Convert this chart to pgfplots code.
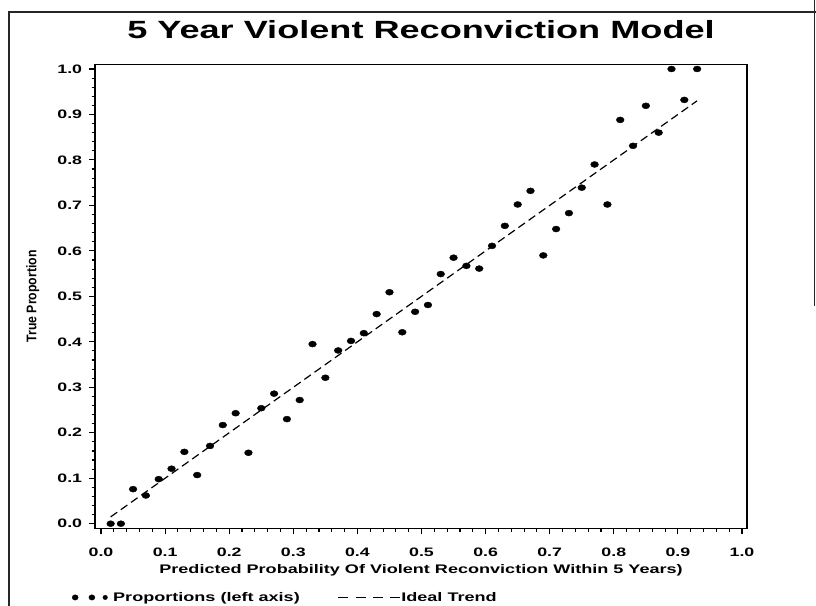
\documentclass[border=0pt]{standalone}
\usepackage{pgfplots}
\pgfplotsset{compat=1.18}
\usepackage{pgfplotstable}
\usepackage{fontspec}
\setmainfont{Liberation Sans}
\newfontfamily\wide{Liberation Sans}[FakeStretch=1.45]
\newfontfamily\cond{Liberation Sans}[FakeStretch=0.88]

\pgfplotstableread{
x y
0.015 0.000
0.031 0.000
0.050 0.076
0.070 0.062
0.090 0.098
0.110 0.121
0.130 0.158
0.150 0.107
0.170 0.171
0.190 0.217
0.210 0.243
0.230 0.156
0.250 0.254
0.270 0.286
0.290 0.230
0.310 0.272
0.330 0.395
0.350 0.321
0.370 0.381
0.390 0.402
0.410 0.419
0.430 0.461
0.450 0.509
0.470 0.421
0.490 0.466
0.510 0.481
0.530 0.549
0.550 0.585
0.570 0.567
0.590 0.561
0.610 0.611
0.630 0.655
0.650 0.702
0.670 0.732
0.690 0.590
0.710 0.648
0.730 0.683
0.750 0.739
0.770 0.790
0.790 0.702
0.810 0.888
0.830 0.831
0.850 0.919
0.870 0.860
0.890 1.000
0.910 0.932
0.930 1.000
}\props

\begin{document}
\begin{tikzpicture}
\begin{axis}[
  at={(95bp,77.7bp)}, anchor=south west,
  scale only axis, width=652bp, height=464bp,
  xmin=-0.0094, xmax=1.0078, ymin=-0.0101, ymax=1.0103,
  xtick={0,0.1,0.2,0.3,0.4,0.5,0.6,0.7,0.8,0.9,1.0},
  ytick={0,0.1,0.2,0.3,0.4,0.5,0.6,0.7,0.8,0.9,1.0},
  minor tick num=4,
  tick align=outside, tick pos=left,
  major tick length=6bp, minor tick length=3.5bp,
  axis line style={line width=1.3bp},
  every tick/.style={black, line width=1.1bp},
  /pgf/number format/.cd, fixed, fixed zerofill, precision=1, assume math mode=true,
  /pgfplots/.cd,
  ticklabel style={font=\wide\bfseries\fontsize{12.3}{12.3}\selectfont},
  xticklabel style={anchor=base, yshift=-22.4bp, inner sep=0pt},
  yticklabel style={anchor=east, inner sep=0pt, xshift=-6.7bp},
  title={5 Year Violent Reconviction Model},
  title style={at={(0.5,1)}, anchor=base, yshift=20bp, inner sep=0pt,
    font=\wide\bfseries\fontsize{25}{26}\selectfont},
  xlabel={Predicted Probability Of Violent Reconviction Within 5 Years)},
  xlabel style={at={(0.5,0)}, anchor=base, yshift=-45bp, inner sep=0pt,
    font=\wide\bfseries\fontsize{12.5}{13}\selectfont},
  ylabel={True Proportion},
  ylabel style={at={(-0.09,0.5)}, anchor=base, inner sep=0pt,
    font=\cond\bfseries\fontsize{14}{14}\selectfont},
  legend columns=2,
  legend style={draw=none, fill=none, inner sep=0pt, outer sep=0pt,
    at={(-0.0353,-0.149)}, anchor=west,
    font=\wide\bfseries\fontsize{12.5}{13}\selectfont,
    nodes={inner sep=0pt},
    /tikz/every even column/.append style={column sep=38bp}},
  legend cell align=left,
]
\addplot[only marks, mark=*, mark size=3bp,
  mark options={xscale=1.3, fill=black, draw=black},
  legend image code/.code={
    \path[draw=none, fill=none] (-3bp,-4bp) rectangle (38bp,4bp);
    \fill[black] (0bp,0bp) ellipse [x radius=3bp, y radius=2.7bp];
    \fill[black] (16.7bp,0bp) ellipse [x radius=3bp, y radius=2.7bp];
    \fill[black] (30bp,0bp) ellipse [x radius=2.3bp, y radius=2.2bp];
  }] table[x=x, y=y] {\props};
\addlegendentry{Proportions (left axis)}
\addplot[black, line width=1.2bp, dash pattern=on 8bp off 4.5bp,
  legend image code/.code={
    \path[draw=none, fill=none] (0bp,-4bp) rectangle (63bp,4bp);
    \draw[black, line width=1.1bp, dash pattern=on 10bp off 7.3bp] (0bp,0bp) -- (62bp,0bp);
  }] coordinates {(0.015,0.015) (0.93,0.93)};
\addlegendentry{Ideal Trend}
\end{axis}
\draw[line width=1.1bp, black!85] (9bp,0bp) -- (9bp,594bp) -- (816bp,594bp);
\draw[line width=1.1bp, black!85] (814.5bp,606bp) -- (814.5bp,300bp);
\pgfresetboundingbox
\useasboundingbox (0bp,0bp) rectangle (816bp,606bp);
\end{tikzpicture}
\end{document}
